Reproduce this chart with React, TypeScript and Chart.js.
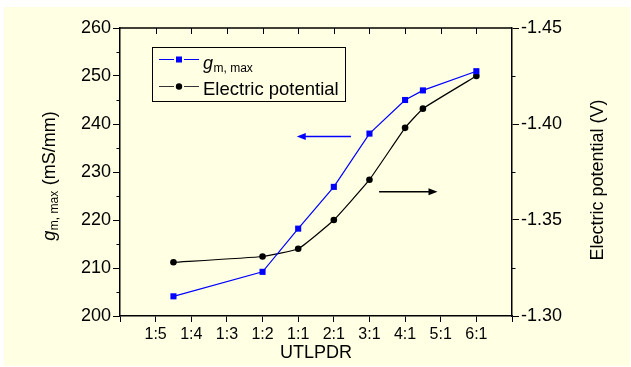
import { useEffect, useRef } from "react";
import { Chart, registerables } from "chart.js";

Chart.register(...registerables);

// ---- data ----
const xTickLabels = ["1:5", "1:4", "1:3", "1:2", "1:1", "2:1", "3:1", "4:1", "5:1", "6:1"];
const xPositions = [1.5, 4, 5, 6, 7, 8, 8.5, 10];
const gmMax = [204.1, 209.2, 218.2, 226.9, 238.0, 245.0, 247.0, 251.0];
const potential = [-1.328, -1.331, -1.335, -1.35, -1.371, -1.398, -1.408, -1.425];

const leftTicksMinor = [205, 215, 225, 235, 245, 255];
const rightTicksMinor = [-1.325, -1.375, -1.425];

// annotation arrows in data coordinates
const blueArrow = { x0: 6.48, x1: 4.96, y: 237.4 };
const blackArrow = { x0: 7.27, x1: 8.91, y: -1.3647 };

const FONT = "'Liberation Sans', Arial, sans-serif";
const BG = "#FFFFE3";

function arrow(ctx: CanvasRenderingContext2D, x0: number, y: number, x1: number, color: string) {
  const dir = Math.sign(x1 - x0);
  ctx.save();
  ctx.strokeStyle = color;
  ctx.fillStyle = color;
  ctx.lineWidth = 1.5;
  ctx.beginPath();
  ctx.moveTo(x0, y);
  ctx.lineTo(x1 - dir * 6, y);
  ctx.stroke();
  ctx.beginPath();
  ctx.moveTo(x1, y);
  ctx.lineTo(x1 - dir * 9, y - 3.5);
  ctx.lineTo(x1 - dir * 9, y + 3.5);
  ctx.closePath();
  ctx.fill();
  ctx.restore();
}

const decorPlugin = {
  id: "decor",
  beforeDraw(chart: any) {
    const ctx = chart.ctx as CanvasRenderingContext2D;
    ctx.save();
    ctx.fillStyle = "#ffffff";
    ctx.fillRect(0, 0, chart.width, chart.height);
    ctx.fillStyle = BG;
    ctx.fillRect(4, 7, chart.width - 5, chart.height - 8);
    ctx.restore();
  },
  afterDraw(chart: any) {
    const ctx = chart.ctx as CanvasRenderingContext2D;
    const { left, right, top } = chart.chartArea;
    const xs = chart.scales.x;
    const ys = chart.scales.y;
    const y1 = chart.scales.y1;
    ctx.save();
    ctx.strokeStyle = "#000";
    ctx.lineWidth = 1.5;
    // top border
    ctx.beginPath();
    ctx.moveTo(left, top);
    ctx.lineTo(right, top);
    ctx.stroke();
    ctx.lineWidth = 1;
    // top inward ticks
    for (let i = 1; i <= 10; i++) {
      const px = Math.round(xs.getPixelForValue(i)) + 0.5;
      ctx.beginPath();
      ctx.moveTo(px, top);
      ctx.lineTo(px, top + 6);
      ctx.stroke();
    }
    // minor ticks
    for (const v of leftTicksMinor) {
      const py = Math.round(ys.getPixelForValue(v)) + 0.5;
      ctx.beginPath();
      ctx.moveTo(left, py);
      ctx.lineTo(left - 3.5, py);
      ctx.stroke();
    }
    for (const v of rightTicksMinor) {
      const py = Math.round(y1.getPixelForValue(v)) + 0.5;
      ctx.beginPath();
      ctx.moveTo(right, py);
      ctx.lineTo(right + 3.5, py);
      ctx.stroke();
    }

    // arrows
    arrow(ctx, xs.getPixelForValue(blueArrow.x0), ys.getPixelForValue(blueArrow.y), xs.getPixelForValue(blueArrow.x1), "#0000FF");
    arrow(ctx, xs.getPixelForValue(blackArrow.x0), y1.getPixelForValue(blackArrow.y), xs.getPixelForValue(blackArrow.x1), "#000000");

    // legend
    ctx.fillStyle = BG;
    ctx.fillRect(152, 47, 194, 55);
    ctx.strokeStyle = "#000";
    ctx.lineWidth = 1;
    ctx.strokeRect(152.5, 47.5, 193, 54);
    // entry 1
    ctx.strokeStyle = "#0000FF";
    ctx.lineWidth = 1.2;
    ctx.beginPath();
    ctx.moveTo(159, 59.5); ctx.lineTo(174, 59.5);
    ctx.moveTo(184, 59.5); ctx.lineTo(199, 59.5);
    ctx.stroke();
    ctx.fillStyle = "#0000FF";
    ctx.fillRect(176, 56.5, 6, 6);
    ctx.fillStyle = "#000";
    ctx.textBaseline = "alphabetic";
    ctx.textAlign = "left";
    ctx.font = `italic 18px ${FONT}`;
    ctx.fillText("g", 203, 69);
    const gw = ctx.measureText("g").width;
    ctx.font = `12px ${FONT}`;
    ctx.fillText("m, max", 203 + gw + 0.5, 72);
    // entry 2
    ctx.strokeStyle = "#333";
    ctx.lineWidth = 1.2;
    ctx.beginPath();
    ctx.moveTo(159, 86.5); ctx.lineTo(174, 86.5);
    ctx.moveTo(184, 86.5); ctx.lineTo(199, 86.5);
    ctx.stroke();
    ctx.fillStyle = "#000";
    ctx.beginPath();
    ctx.arc(179, 86.5, 3.2, 0, Math.PI * 2);
    ctx.fill();
    ctx.font = `18.5px ${FONT}`;
    ctx.fillText("Electric potential", 203, 95);

    // axis titles
    ctx.fillStyle = "#000";
    ctx.font = `18px ${FONT}`;
    ctx.textAlign = "center";
    ctx.textBaseline = "middle";
    ctx.fillText("UTLPDR", (left + right) / 2, 353);

    // right title
    ctx.save();
    ctx.translate(598, 180);
    ctx.rotate(-Math.PI / 2);
    ctx.fillText("Electric potential (V)", 0, 0);
    ctx.restore();

    // left title with subscript
    ctx.save();
    ctx.translate(54.5, 176);
    ctx.rotate(-Math.PI / 2);
    ctx.textAlign = "left";
    ctx.textBaseline = "alphabetic";
    ctx.font = `italic 18px ${FONT}`;
    const w1 = ctx.measureText("g").width;
    ctx.font = `12px ${FONT}`;
    const w2 = ctx.measureText("m, max").width;
    ctx.font = `18px ${FONT}`;
    const w3 = ctx.measureText(" (mS/mm)").width;
    const total = w1 + w2 + w3 + 1;
    let x = -total / 2;
    ctx.font = `italic 18px ${FONT}`;
    ctx.fillText("g", x, 0);
    x += w1 + 0.5;
    ctx.font = `12px ${FONT}`;
    ctx.fillText("m, max", x, 3);
    x += w2 + 0.5;
    ctx.font = `18px ${FONT}`;
    ctx.fillText(" (mS/mm)", x, 0);
    ctx.restore();

    ctx.restore();
  },
};

export default function App() {
  const ref = useRef<HTMLCanvasElement | null>(null);
  useEffect(() => {
    if (!ref.current) return;
    const chart = new Chart(ref.current, {
      type: "line",
      data: {
        datasets: [
          {
            label: "gm, max",
            data: xPositions.map((x, i) => ({ x, y: gmMax[i] })),
            yAxisID: "y",
            borderColor: "#0000FF",
            backgroundColor: "#0000FF",
            borderWidth: 1.2,
            pointStyle: "rect",
            pointRadius: 4.3,
            pointBorderWidth: 0,
            tension: 0,
          },
          {
            label: "Electric potential",
            data: xPositions.map((x, i) => ({ x, y: potential[i] })),
            yAxisID: "y1",
            borderColor: "#000000",
            backgroundColor: "#000000",
            borderWidth: 1.2,
            pointStyle: "circle",
            pointRadius: 3.3,
            pointBorderWidth: 0,
            tension: 0.12,
          },
        ],
      },
      options: {
        responsive: false,
        animation: false,
        devicePixelRatio: 1,
        layout: { padding: { top: 28, left: 0, right: 0, bottom: 0 } },
        plugins: { legend: { display: false }, tooltip: { enabled: false } },
        scales: {
          x: {
            type: "linear",
            position: "bottom",
            min: 0,
            max: 11,
            afterFit: (s: any) => { s.height = 51; },
            border: { color: "#000", width: 1.5 },
            grid: { drawOnChartArea: false, drawTicks: true, tickLength: 6, color: "#000" },
            ticks: {
              stepSize: 1,
              autoSkip: false,
              maxRotation: 0,
              padding: 3,
              color: "#000",
              font: { family: FONT, size: 16 },
              callback: (v: any) => {
                const n = Math.round(Number(v));
                return n >= 1 && n <= 10 ? xTickLabels[n - 1] : "";
              },
            },
          },
          y: {
            type: "linear",
            position: "left",
            min: 200,
            max: 260,
            afterFit: (s: any) => { s.width = 120; },
            border: { color: "#000", width: 1.5 },
            grid: { drawOnChartArea: false, drawTicks: true, tickLength: 7, color: "#000" },
            ticks: { stepSize: 10, padding: 2, color: "#000", font: { family: FONT, size: 18 } },
          },
          y1: {
            type: "linear",
            position: "right",
            min: -1.45,
            max: -1.3,
            reverse: true,
            afterFit: (s: any) => { s.width = 119; },
            border: { color: "#000", width: 1.5 },
            grid: { drawOnChartArea: false, drawTicks: true, tickLength: 7, color: "#000" },
            ticks: {
              stepSize: 0.05,
              padding: 2,
              color: "#000",
              font: { family: FONT, size: 18 },
              callback: (v: any) => Number(v).toFixed(2),
            },
          },
        },
      },
      plugins: [decorPlugin],
    } as any);
    return () => chart.destroy();
  }, []);
  return (
    <div style={{ position: "absolute", left: 0, top: 0, width: 631, height: 367 }}>
      <canvas ref={ref} width={631} height={367} style={{ display: "block", width: 631, height: 367 }} />
    </div>
  );
}
